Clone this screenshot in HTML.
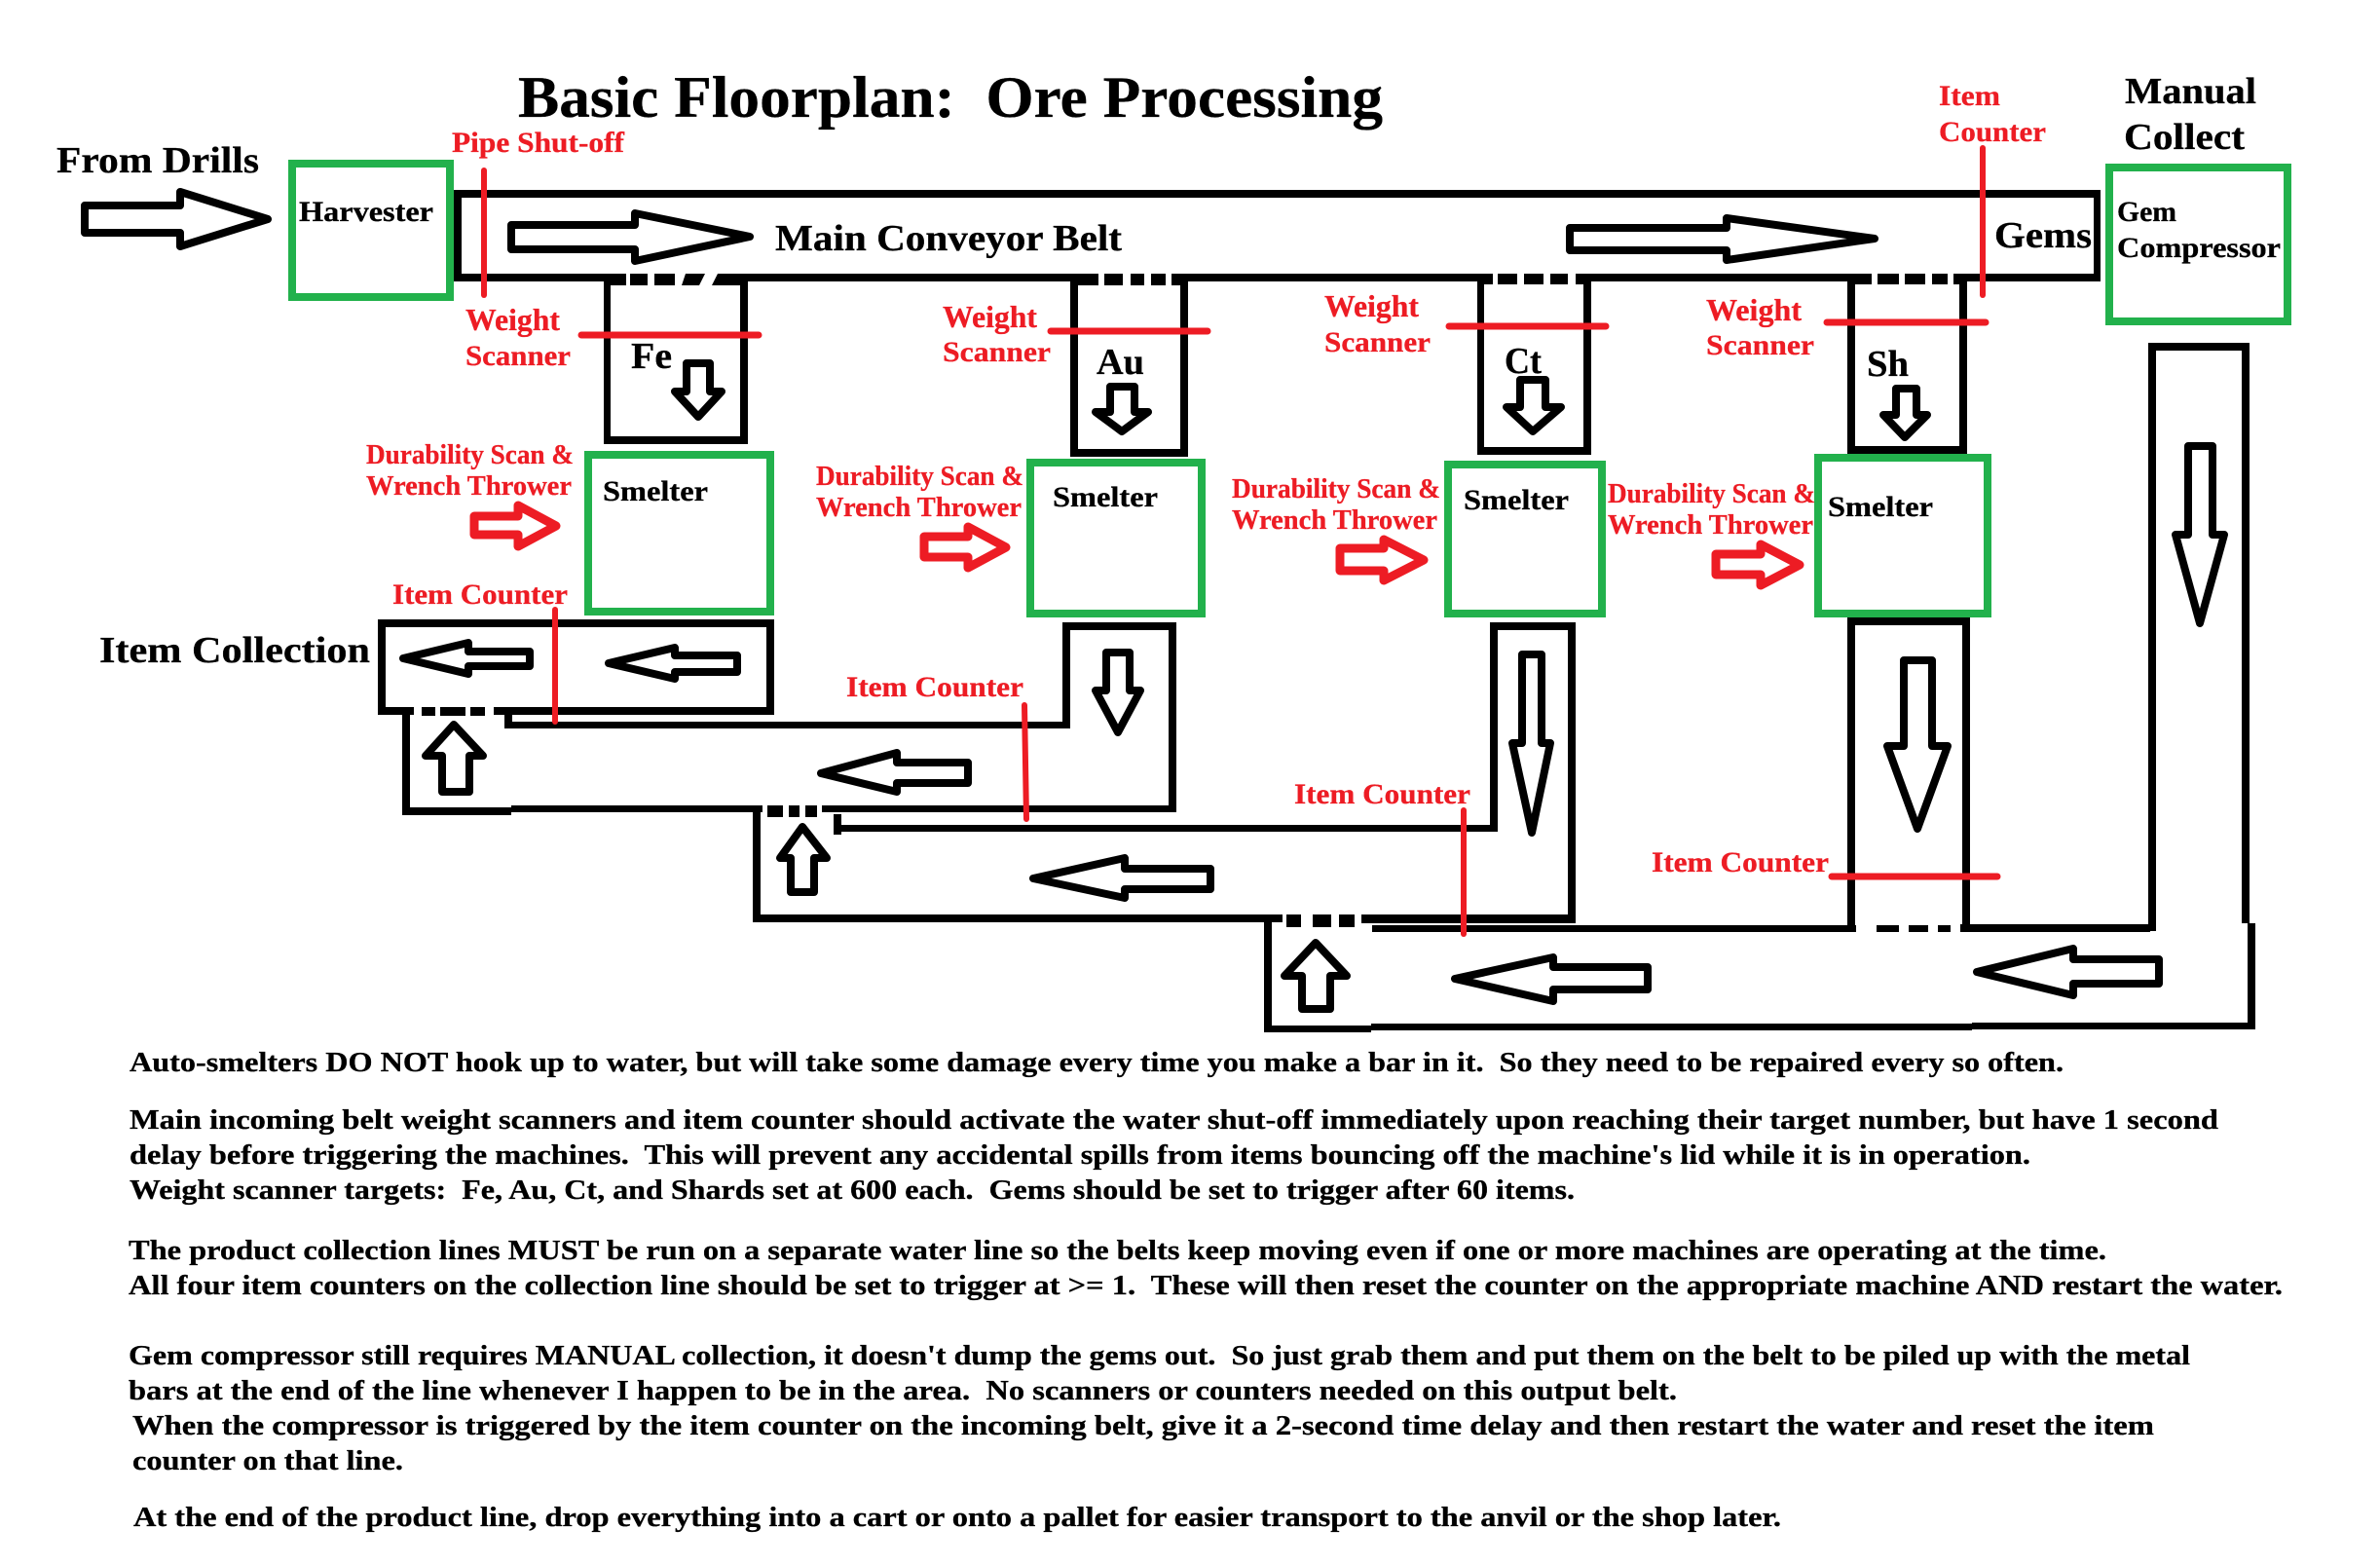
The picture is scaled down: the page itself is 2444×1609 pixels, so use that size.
<!DOCTYPE html>
<html>
<head>
<meta charset="utf-8">
<title>Basic Floorplan: Ore Processing</title>
<style>
html,body{margin:0;padding:0;background:#fff;width:2444px;height:1609px;overflow:hidden}
svg{display:block}
text{font-family:"Liberation Serif","DejaVu Serif",serif;font-weight:bold;white-space:pre;fill:#000;stroke:#000;stroke-width:.3}
text.r{fill:#ed1c24;stroke:#ed1c24}
.a{fill:#fff;stroke:#000;stroke-width:8;stroke-linejoin:round}
.ra{fill:#fff;stroke:#ed1c24;stroke-width:9;stroke-linejoin:round}
.g{fill:none;stroke:#22b14c;stroke-width:8}
.l{stroke:#ed1c24;stroke-linecap:round;fill:none}
</style>
</head>
<body>
<svg xmlns="http://www.w3.org/2000/svg" width="2444" height="1609" viewBox="0 0 2444 1609">
<rect width="2444" height="1609" fill="#fff"/>

<!-- black belts -->
<g fill="#000">
<!-- main belt -->
<rect x="466" y="195" width="1691" height="8"/>
<rect x="466" y="195" width="8" height="94"/>
<rect x="2150" y="195" width="7" height="94"/>
<rect x="466" y="281" width="177" height="8"/>
<rect x="620" y="281" width="23" height="12"/>
<rect x="647" y="281" width="18" height="12"/><rect x="672" y="281" width="21" height="12"/>
<polygon points="704,281 724,281 718,293 700,293"/>
<polygon points="737,281 1128,281 1128,289 768,289 768,293 731,293"/>
<rect x="1099" y="281" width="29" height="12"/>
<rect x="1134" y="281" width="19" height="12"/><rect x="1161" y="281" width="14" height="12"/><rect x="1182" y="281" width="15" height="12"/>
<rect x="1203" y="281" width="330" height="8"/><rect x="1203" y="281" width="17" height="12"/>
<rect x="1517" y="281" width="16" height="11"/>
<rect x="1538" y="281" width="20" height="11"/><rect x="1565" y="281" width="20" height="11"/><rect x="1592" y="281" width="18" height="11"/>
<rect x="1618" y="281" width="304" height="8"/><rect x="1618" y="281" width="16" height="11"/>
<rect x="1897" y="281" width="25" height="11"/>
<rect x="1928" y="281" width="22" height="11"/><rect x="1956" y="281" width="21" height="11"/><rect x="1984" y="281" width="16" height="11"/>
<rect x="2006" y="281" width="151" height="8"/><rect x="2006" y="281" width="14" height="11"/>
<!-- Fe -->
<rect x="620" y="281" width="7" height="175"/><rect x="760" y="281" width="8" height="175"/><rect x="620" y="448" width="148" height="8"/>
<!-- Au -->
<rect x="1099" y="281" width="8" height="188"/><rect x="1212" y="281" width="8" height="188"/><rect x="1099" y="461" width="121" height="8"/>
<!-- Ct -->
<rect x="1517" y="281" width="7" height="186"/><rect x="1626" y="281" width="8" height="186"/><rect x="1517" y="459" width="117" height="8"/>
<!-- Sh -->
<rect x="1897" y="281" width="8" height="185"/><rect x="2012" y="281" width="8" height="185"/><rect x="1897" y="458" width="123" height="8"/>
<!-- gem belt -->
<rect x="2206" y="352" width="104" height="8"/>
<rect x="2206" y="352" width="8" height="604"/>
<rect x="2302" y="352" width="8" height="596"/>
<!-- item collection -->
<rect x="388" y="636" width="407" height="8"/>
<rect x="388" y="636" width="8" height="97"/>
<rect x="787" y="636" width="8" height="97"/>
<rect x="388" y="726" width="37" height="8"/>
<rect x="433" y="726" width="14" height="9"/><rect x="452" y="726" width="26" height="9"/><rect x="483" y="726" width="15" height="9"/>
<rect x="507" y="726" width="288" height="8"/>
<!-- Au collect -->
<rect x="1091" y="639" width="117" height="8"/>
<rect x="1091" y="639" width="8" height="109"/>
<rect x="1200" y="639" width="8" height="195"/>
<rect x="518" y="741" width="581" height="7"/>
<rect x="518" y="733" width="8" height="15"/>
<rect x="413" y="733" width="8" height="104"/>
<rect x="413" y="829" width="112" height="8"/>
<rect x="525" y="827" width="258" height="7"/>
<rect x="788" y="827" width="16" height="12"/><rect x="810" y="827" width="11" height="12"/><rect x="827" y="827" width="12" height="12"/>
<rect x="844" y="827" width="364" height="7"/>
<!-- Ct collect -->
<rect x="1530" y="639" width="88" height="8"/>
<rect x="1530" y="639" width="8" height="215"/>
<rect x="1610" y="639" width="8" height="309"/>
<rect x="857" y="847" width="681" height="7"/>
<rect x="856" y="836" width="8" height="21"/>
<rect x="773" y="827" width="8" height="119"/>
<rect x="773" y="939" width="544" height="8"/>
<rect x="1321" y="939" width="15" height="13"/><rect x="1348" y="939" width="19" height="13"/><rect x="1375" y="939" width="16" height="13"/>
<rect x="1398" y="939" width="220" height="9"/>
<!-- Sh collect -->
<rect x="1897" y="634" width="126" height="8"/>
<rect x="1897" y="634" width="8" height="323"/>
<rect x="2015" y="634" width="8" height="322"/>
<!-- bottom belt -->
<rect x="1409" y="950" width="497" height="7"/>
<rect x="1927" y="950" width="23" height="7"/><rect x="1960" y="950" width="20" height="7"/><rect x="1990" y="950" width="13" height="7"/>
<rect x="2013" y="949" width="195" height="8"/>
<rect x="1298" y="946" width="8" height="114"/>
<rect x="2308" y="948" width="8" height="109"/>
<rect x="1298" y="1053" width="110" height="7"/>
<rect x="1408" y="1051" width="617" height="7"/>
<rect x="2025" y="1050" width="291" height="7"/>
</g>

<!-- green boxes -->
<rect class="g" x="300" y="168" width="162" height="137"/>
<rect class="g" x="604" y="467" width="187" height="161"/>
<rect class="g" x="1058" y="475" width="176" height="155"/>
<rect class="g" x="1487" y="477" width="158" height="153"/>
<rect class="g" x="1867" y="470" width="174" height="160"/>
<rect class="g" x="2166" y="172" width="183" height="158"/>

<!-- black arrows -->
<polygon class="a" points="87,211 185,211 185,197 275,225 185,253 185,239 87,239"/>
<polygon class="a" points="525,231 652,231 652,219 770,243 652,268 652,256 525,256"/>
<polygon class="a" points="1612,234 1773,234 1773,224 1925,245 1773,267 1773,257 1612,257"/>
<polygon class="a" points="705,373 729,373 729,402 741,402 717,428 693,402 705,402"/>
<polygon class="a" points="1140,397 1165,397 1165,423 1179,423 1152,443 1125,423 1140,423"/>
<polygon class="a" points="1561,390 1587,390 1587,418 1603,418 1574,443 1547,418 1561,418"/>
<polygon class="a" points="1947,399 1968,399 1968,426 1979,426 1956,449 1934,426 1947,426"/>
<polygon class="a" points="2247,458 2272,458 2272,549 2284,549 2259,640 2234,549 2247,549"/>
<polygon class="a" points="1136,670 1160,670 1160,709 1171,709 1148,752 1125,709 1136,709"/>
<polygon class="a" points="1563,672 1583,672 1583,763 1592,763 1573,855 1553,763 1563,763"/>
<polygon class="a" points="1955,678 1984,678 1984,766 2000,766 1969,851 1938,766 1955,766"/>
<polygon class="a" points="414,676 481,660 481,669 544,669 544,684 481,684 481,692"/>
<polygon class="a" points="625,681 693,665 693,673 757,673 757,690 693,690 693,697"/>
<polygon class="a" points="843,794 921,773 921,783 994,783 994,804 921,804 921,813"/>
<polygon class="a" points="1061,902 1155,881 1155,892 1243,892 1243,913 1155,913 1155,922"/>
<polygon class="a" points="1494,1005 1595,983 1595,993 1692,993 1692,1016 1595,1016 1595,1028"/>
<polygon class="a" points="2030,998 2129,974 2129,985 2217,985 2217,1010 2129,1010 2129,1022"/>
<polygon class="a" points="466,744 437,776 454,776 454,813 482,813 482,776 496,776"/>
<polygon class="a" points="824,849 801,881 812,881 812,916 836,916 836,881 849,881"/>
<polygon class="a" points="1351,968 1319,1002 1337,1002 1337,1036 1366,1036 1366,1002 1383,1002"/>

<!-- red arrows -->
<polygon class="ra" points="487,530 532,530 532,519 571,540 532,561 532,549 487,549"/>
<polygon class="ra" points="949,551 994,551 994,541 1033,562 994,583 994,572 949,572"/>
<polygon class="ra" points="1376,563 1421,563 1421,554 1462,575 1421,596 1421,586 1376,586"/>
<polygon class="ra" points="1762,569 1808,569 1808,559 1848,580 1808,601 1808,590 1762,590"/>

<!-- red lines -->
<line class="l" stroke-width="6" x1="497" y1="175" x2="497" y2="303"/>
<line class="l" stroke-width="7" x1="597" y1="344" x2="779" y2="344"/>
<line class="l" stroke-width="7" x1="1079" y1="340" x2="1240" y2="340"/>
<line class="l" stroke-width="7" x1="1488" y1="335" x2="1649" y2="335"/>
<line class="l" stroke-width="7" x1="1876" y1="331" x2="2039" y2="331"/>
<line class="l" stroke-width="6" x1="2036" y1="152" x2="2036" y2="303"/>
<line class="l" stroke-width="6" x1="570" y1="626" x2="570" y2="741"/>
<line class="l" stroke-width="6" x1="1052" y1="724" x2="1054" y2="841"/>
<line class="l" stroke-width="6" x1="1503" y1="832" x2="1503" y2="959"/>
<line class="l" stroke-width="7" x1="1881" y1="900" x2="2051" y2="900"/>

<!-- black labels -->
<text x="532" y="120" font-size="60" textLength="888" lengthAdjust="spacingAndGlyphs">Basic Floorplan:  Ore Processing</text>
<text x="58" y="177" font-size="38" textLength="208" lengthAdjust="spacingAndGlyphs">From Drills</text>
<text x="307" y="227" font-size="30" textLength="138" lengthAdjust="spacingAndGlyphs">Harvester</text>
<text x="796" y="257" font-size="38" textLength="356" lengthAdjust="spacingAndGlyphs">Main Conveyor Belt</text>
<text x="2048" y="254" font-size="38" textLength="100" lengthAdjust="spacingAndGlyphs">Gems</text>
<text x="2182" y="106" font-size="38" textLength="135" lengthAdjust="spacingAndGlyphs">Manual</text>
<text x="2181" y="153" font-size="38" textLength="124" lengthAdjust="spacingAndGlyphs">Collect</text>
<text x="2174" y="227" font-size="30" textLength="61" lengthAdjust="spacingAndGlyphs">Gem</text>
<text x="2174" y="264" font-size="30" textLength="168" lengthAdjust="spacingAndGlyphs">Compressor</text>
<text x="648" y="378" font-size="38" textLength="42" lengthAdjust="spacingAndGlyphs">Fe</text>
<text x="1126" y="384" font-size="38" textLength="49" lengthAdjust="spacingAndGlyphs">Au</text>
<text x="1545" y="383" font-size="38" textLength="38" lengthAdjust="spacingAndGlyphs">Ct</text>
<text x="1917" y="386" font-size="38" textLength="43" lengthAdjust="spacingAndGlyphs">Sh</text>
<text x="619" y="514" font-size="30" textLength="108" lengthAdjust="spacingAndGlyphs">Smelter</text>
<text x="1081" y="520" font-size="30" textLength="108" lengthAdjust="spacingAndGlyphs">Smelter</text>
<text x="1503" y="523" font-size="30" textLength="108" lengthAdjust="spacingAndGlyphs">Smelter</text>
<text x="1877" y="530" font-size="30" textLength="108" lengthAdjust="spacingAndGlyphs">Smelter</text>
<text x="102" y="680" font-size="38" textLength="278" lengthAdjust="spacingAndGlyphs">Item Collection</text>

<!-- red labels -->
<text class="r" x="464" y="156" font-size="30" textLength="177" lengthAdjust="spacingAndGlyphs">Pipe Shut-off</text>
<text class="r" x="478" y="339" font-size="32" textLength="97" lengthAdjust="spacingAndGlyphs">Weight</text>
<text class="r" x="478" y="375" font-size="30" textLength="108" lengthAdjust="spacingAndGlyphs">Scanner</text>
<text class="r" x="968" y="336" font-size="32" textLength="97" lengthAdjust="spacingAndGlyphs">Weight</text>
<text class="r" x="968" y="371" font-size="30" textLength="111" lengthAdjust="spacingAndGlyphs">Scanner</text>
<text class="r" x="1360" y="325" font-size="32" textLength="97" lengthAdjust="spacingAndGlyphs">Weight</text>
<text class="r" x="1360" y="361" font-size="30" textLength="109" lengthAdjust="spacingAndGlyphs">Scanner</text>
<text class="r" x="1752" y="329" font-size="32" textLength="98" lengthAdjust="spacingAndGlyphs">Weight</text>
<text class="r" x="1752" y="364" font-size="30" textLength="111" lengthAdjust="spacingAndGlyphs">Scanner</text>
<text class="r" x="1991" y="108" font-size="30" textLength="63" lengthAdjust="spacingAndGlyphs">Item</text>
<text class="r" x="1991" y="145" font-size="30" textLength="110" lengthAdjust="spacingAndGlyphs">Counter</text>
<text class="r" x="376" y="476" font-size="28" textLength="213" lengthAdjust="spacingAndGlyphs">Durability Scan &amp;</text>
<text class="r" x="376" y="508" font-size="28" textLength="211" lengthAdjust="spacingAndGlyphs">Wrench Thrower</text>
<text class="r" x="838" y="498" font-size="28" textLength="213" lengthAdjust="spacingAndGlyphs">Durability Scan &amp;</text>
<text class="r" x="838" y="530" font-size="28" textLength="211" lengthAdjust="spacingAndGlyphs">Wrench Thrower</text>
<text class="r" x="1265" y="511" font-size="28" textLength="214" lengthAdjust="spacingAndGlyphs">Durability Scan &amp;</text>
<text class="r" x="1265" y="543" font-size="28" textLength="211" lengthAdjust="spacingAndGlyphs">Wrench Thrower</text>
<text class="r" x="1651" y="516" font-size="28" textLength="213" lengthAdjust="spacingAndGlyphs">Durability Scan &amp;</text>
<text class="r" x="1651" y="548" font-size="28" textLength="211" lengthAdjust="spacingAndGlyphs">Wrench Thrower</text>
<text class="r" x="403" y="620" font-size="30" textLength="180" lengthAdjust="spacingAndGlyphs">Item Counter</text>
<text class="r" x="869" y="715" font-size="30" textLength="182" lengthAdjust="spacingAndGlyphs">Item Counter</text>
<text class="r" x="1329" y="825" font-size="30" textLength="181" lengthAdjust="spacingAndGlyphs">Item Counter</text>
<text class="r" x="1696" y="895" font-size="30" textLength="182" lengthAdjust="spacingAndGlyphs">Item Counter</text>

<!-- paragraph text -->
<g font-size="29">
<text x="133" y="1100" textLength="1986" lengthAdjust="spacingAndGlyphs">Auto-smelters DO NOT hook up to water, but will take some damage every time you make a bar in it.  So they need to be repaired every so often.</text>
<text x="133" y="1159" textLength="2145" lengthAdjust="spacingAndGlyphs">Main incoming belt weight scanners and item counter should activate the water shut-off immediately upon reaching their target number, but have 1 second</text>
<text x="133" y="1195" textLength="1952" lengthAdjust="spacingAndGlyphs">delay before triggering the machines.  This will prevent any accidental spills from items bouncing off the machine's lid while it is in operation.</text>
<text x="133" y="1231" textLength="1484" lengthAdjust="spacingAndGlyphs">Weight scanner targets:  Fe, Au, Ct, and Shards set at 600 each.  Gems should be set to trigger after 60 items.</text>
<text x="132" y="1293" textLength="2031" lengthAdjust="spacingAndGlyphs">The product collection lines MUST be run on a separate water line so the belts keep moving even if one or more machines are operating at the time.</text>
<text x="132" y="1329" textLength="2212" lengthAdjust="spacingAndGlyphs">All four item counters on the collection line should be set to trigger at &gt;= 1.  These will then reset the counter on the appropriate machine AND restart the water.</text>
<text x="132" y="1401" textLength="2117" lengthAdjust="spacingAndGlyphs">Gem compressor still requires MANUAL collection, it doesn't dump the gems out.  So just grab them and put them on the belt to be piled up with the metal</text>
<text x="132" y="1437" textLength="1590" lengthAdjust="spacingAndGlyphs">bars at the end of the line whenever I happen to be in the area.  No scanners or counters needed on this output belt.</text>
<text x="136" y="1473" textLength="2076" lengthAdjust="spacingAndGlyphs">When the compressor is triggered by the item counter on the incoming belt, give it a 2-second time delay and then restart the water and reset the item</text>
<text x="136" y="1509" textLength="278" lengthAdjust="spacingAndGlyphs">counter on that line.</text>
<text x="137" y="1567" textLength="1692" lengthAdjust="spacingAndGlyphs">At the end of the product line, drop everything into a cart or onto a pallet for easier transport to the anvil or the shop later.</text>
</g>
</svg>
</body>
</html>
